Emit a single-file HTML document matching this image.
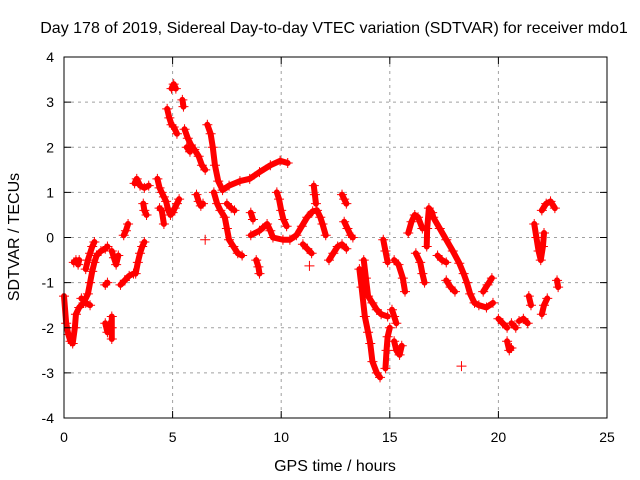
<!DOCTYPE html>
<html><head><meta charset="utf-8"><style>
body{margin:0;background:#fff;}
svg{display:block;font-family:"Liberation Sans",sans-serif;}
</style></head><body>
<svg id="chart" width="640" height="480" viewBox="0 0 640 480" xmlns="http://www.w3.org/2000/svg">
<rect width="640" height="480" fill="#fff"/>
<text x="334" y="33" font-size="16" text-anchor="middle">Day 178 of 2019, Sidereal Day-to-day VTEC variation (SDTVAR) for receiver mdo1</text>
<g id="grid"></g>
<g id="series"></g>
<rect x="64" y="57" width="543" height="361" fill="none" stroke="#000" stroke-width="1"/>
<g id="axes"></g>
<text x="335" y="471" font-size="16" text-anchor="middle">GPS time / hours</text>
<text transform="translate(19,237) rotate(-90)" font-size="16" text-anchor="middle">SDTVAR / TECUs</text>
</svg>
<script>
const xTicks = [0, 5, 10, 15, 20, 25];
const yTicks = [-4, -3, -2, -1, 0, 1, 2, 3, 4];
const segments = [
[[0,-1.3],[0.1,-1.9],[0.2,-2.15],[0.3,-2.3],[0.4,-2.35],[0.5,-2.0],[0.55,-1.7],[0.7,-1.55],[0.9,-1.45],[1.1,-1.25],[1.2,-1.0],[1.3,-0.75],[1.4,-0.55],[1.5,-0.4],[1.7,-0.3],[1.9,-0.25],[2.0,-0.2]],
[[0.45,-0.55],[0.55,-0.5],[0.65,-0.6],[0.7,-0.5]],
[[0.8,-1.35],[1.0,-1.45],[1.2,-1.5]],
[[1.0,-0.7],[1.1,-0.5],[1.2,-0.35],[1.3,-0.2],[1.4,-0.1]],
[[1.9,-1.9],[2.0,-2.1],[2.05,-1.95]],
[[2.2,-1.75],[2.2,-2.0],[2.2,-2.25]],
[[1.9,-1.05],[2.0,-1.0]],
[[2.2,-0.3],[2.3,-0.45],[2.4,-0.6],[2.5,-0.4]],
[[2.6,-1.05],[2.8,-0.95],[3.0,-0.85],[3.2,-0.8]],
[[2.75,0.05],[2.85,0.15],[2.95,0.3]],
[[3.3,-0.8],[3.4,-0.55],[3.5,-0.35],[3.6,-0.2],[3.7,-0.1]],
[[3.25,1.2],[3.35,1.3],[3.5,1.15],[3.7,1.1],[3.9,1.15]],
[[3.65,0.75],[3.7,0.6],[3.8,0.5]],
[[4.3,1.3],[4.4,1.1],[4.5,1.0],[4.6,0.9],[4.7,0.8],[4.8,0.6],[4.9,0.5],[5.0,0.55],[5.1,0.65],[5.2,0.75],[5.3,0.85]],
[[4.4,0.65],[4.5,0.6],[4.6,0.3]],
[[4.95,3.3],[5.05,3.4],[5.15,3.3]],
[[4.75,2.85],[4.85,2.65],[4.95,2.5],[5.05,2.45],[5.2,2.3]],
[[5.45,3.05],[5.5,2.9]],
[[5.55,2.4],[5.7,2.2],[5.85,2.05],[6.0,1.95],[6.2,1.8],[6.35,1.6],[6.5,1.5]],
[[5.65,2.0],[5.8,1.9]],
[[6.1,0.95],[6.2,0.8],[6.3,0.7],[6.4,0.75]],
[[6.5,-0.05]],
[[6.6,2.5],[6.75,2.3],[6.85,2.0],[6.95,1.6],[7.1,1.25],[7.3,1.05],[7.6,1.15],[8.1,1.25],[8.55,1.3],[9.0,1.45],[9.5,1.6],[9.95,1.7],[10.3,1.65]],
[[6.9,1.0],[7.05,0.75],[7.2,0.6],[7.4,0.45],[7.5,0.2],[7.6,-0.05],[7.8,-0.2],[8.0,-0.35],[8.2,-0.4]],
[[7.5,0.75],[7.7,0.65],[7.85,0.6]],
[[8.6,0.55],[8.7,0.4]],
[[8.85,-0.5],[8.95,-0.65],[9.0,-0.8]],
[[8.6,0.05],[9.0,0.15],[9.35,0.3],[9.5,0.15],[9.62,0.0],[10.08,-0.05],[10.4,-0.05],[10.7,0.05],[10.95,0.25],[11.2,0.45],[11.45,0.58],[11.65,0.6],[11.8,0.45],[11.9,0.3],[12.05,0.05]],
[[9.8,1.0],[9.9,0.85],[10.0,0.6],[10.1,0.4],[10.25,0.25]],
[[11.5,1.15],[11.55,0.95],[11.6,0.75]],
[[12.8,0.95],[12.9,0.85],[13.0,0.75]],
[[12.9,0.35],[13.05,0.2],[13.2,0.05],[13.3,0.0]],
[[12.2,-0.5],[12.4,-0.35],[12.6,-0.2],[12.8,-0.15],[13.0,-0.25]],
[[11.0,-0.15],[11.2,-0.25],[11.4,-0.35]],
[[11.3,-0.63]],
[[13.8,-0.5],[13.9,-0.9],[14.0,-1.3],[14.2,-1.45],[14.4,-1.6],[14.6,-1.7],[14.9,-1.75]],
[[13.6,-0.7],[13.7,-1.1],[13.85,-1.75],[14.0,-2.1],[14.1,-2.35],[14.2,-2.75],[14.4,-3.0],[14.55,-3.1]],
[[14.7,-0.05],[14.8,-0.3],[14.9,-0.55]],
[[14.8,-2.9],[14.85,-2.5],[14.9,-2.2],[15.0,-2.0]],
[[15.1,-1.6],[15.2,-1.75],[15.3,-1.9]],
[[15.2,-2.3],[15.3,-2.5],[15.45,-2.6],[15.55,-2.4]],
[[15.2,-0.5],[15.4,-0.6],[15.6,-0.9],[15.7,-1.2]],
[[15.85,0.1],[16.0,0.35],[16.15,0.5],[16.3,0.45],[16.5,0.2]],
[[16.2,-0.35],[16.4,-0.55],[16.5,-0.8],[16.6,-1.0]],
[[16.7,-0.2],[16.72,0.2],[16.8,0.65],[16.95,0.55],[17.0,0.45],[17.3,0.2],[17.6,-0.05],[17.9,-0.3],[18.2,-0.57],[18.4,-0.8],[18.55,-1.0],[18.7,-1.25],[18.9,-1.45],[19.1,-1.5],[19.45,-1.55],[19.75,-1.45]],
[[19.3,-1.2],[19.5,-1.05],[19.7,-0.9]],
[[17.2,-0.4],[17.4,-0.5],[17.6,-0.55]],
[[17.6,-0.95],[17.8,-1.1],[18.0,-1.2]],
[[18.3,-2.85]],
[[20.0,-1.8],[20.2,-1.9],[20.4,-2.0]],
[[20.4,-2.3],[20.5,-2.5],[20.6,-2.45]],
[[20.6,-1.9],[20.8,-2.0]],
[[20.95,-1.85],[21.15,-1.8],[21.35,-1.9]],
[[21.4,-1.3],[21.5,-1.5]],
[[22.0,-1.7],[22.1,-1.5],[22.25,-1.35]],
[[21.65,0.3],[21.75,0.0],[21.85,-0.3],[21.95,-0.5],[22.05,-0.2],[22.1,0.1]],
[[22.0,0.6],[22.2,0.75],[22.4,0.8],[22.6,0.65]],
[[22.7,-0.95],[22.75,-1.1]]
];
const NS = "http://www.w3.org/2000/svg";
const L = 64, R = 607, T = 57, B = 418;
const xMin = 0, xMax = 25, yMin = -4, yMax = 4;
function xs(t){ return L + (t - xMin) / (xMax - xMin) * (R - L); }
function ys(v){ return B - (v - yMin) / (yMax - yMin) * (B - T); }
function mk(tag, attrs, parent){ const e = document.createElementNS(NS, tag); for (const k in attrs) e.setAttribute(k, attrs[k]); parent.appendChild(e); return e; }
const grid = document.getElementById('grid');
const axes = document.getElementById('axes');
const series = document.getElementById('series');
xTicks.forEach(t => {
  const x = xs(t);
  if (t > xMin && t < xMax) {
    const g = mk('line', {x1:x, x2:x, y1:T, y2:B, stroke:'#a0a0a0', 'stroke-dasharray':'3,4', 'stroke-width':1}, grid);
    
    
  }
  const tk = mk('path', {d:`M${x},${B}v-7M${x},${T}v7`, stroke:'#000', 'stroke-width':1}, axes);
  
  
  const lb = mk('text', {x:x, y:B + 24, 'font-size':14, 'text-anchor':'middle'}, axes);
  lb.textContent = String(t);
  
  
});
yTicks.forEach(v => {
  const y = ys(v);
  if (v > yMin && v < yMax) {
    const g = mk('line', {x1:L, x2:R, y1:y, y2:y, stroke:'#a0a0a0', 'stroke-dasharray':'3,4', 'stroke-width':1}, grid);
    
    
  }
  const tk = mk('path', {d:`M${L},${y}h7M${R},${y}h-7`, stroke:'#000', 'stroke-width':1}, axes);
  
  
  const lb = mk('text', {x:L - 10, y:y + 5, 'font-size':14, 'text-anchor':'end'}, axes);
  lb.textContent = String(v);
  
  
});
segments.forEach(seg => {
  if (seg.length > 1) {
    const pl = mk('polyline', {points: seg.map(p => xs(p[0]) + ',' + ys(p[1])).join(' '), fill:'none', stroke:'#ff0000', 'stroke-width':6, 'stroke-linejoin':'round', 'stroke-linecap':'round'}, series);
    
    
  }
  seg.forEach(p => {
    const x = xs(p[0]), y = ys(p[1]);
    const m = mk('path', {d:`M${x-5},${y}h10M${x},${y-5}v10`, stroke:'#ff0000', 'stroke-width':1}, series);
    
    
  });
});
</script>
</body></html>
